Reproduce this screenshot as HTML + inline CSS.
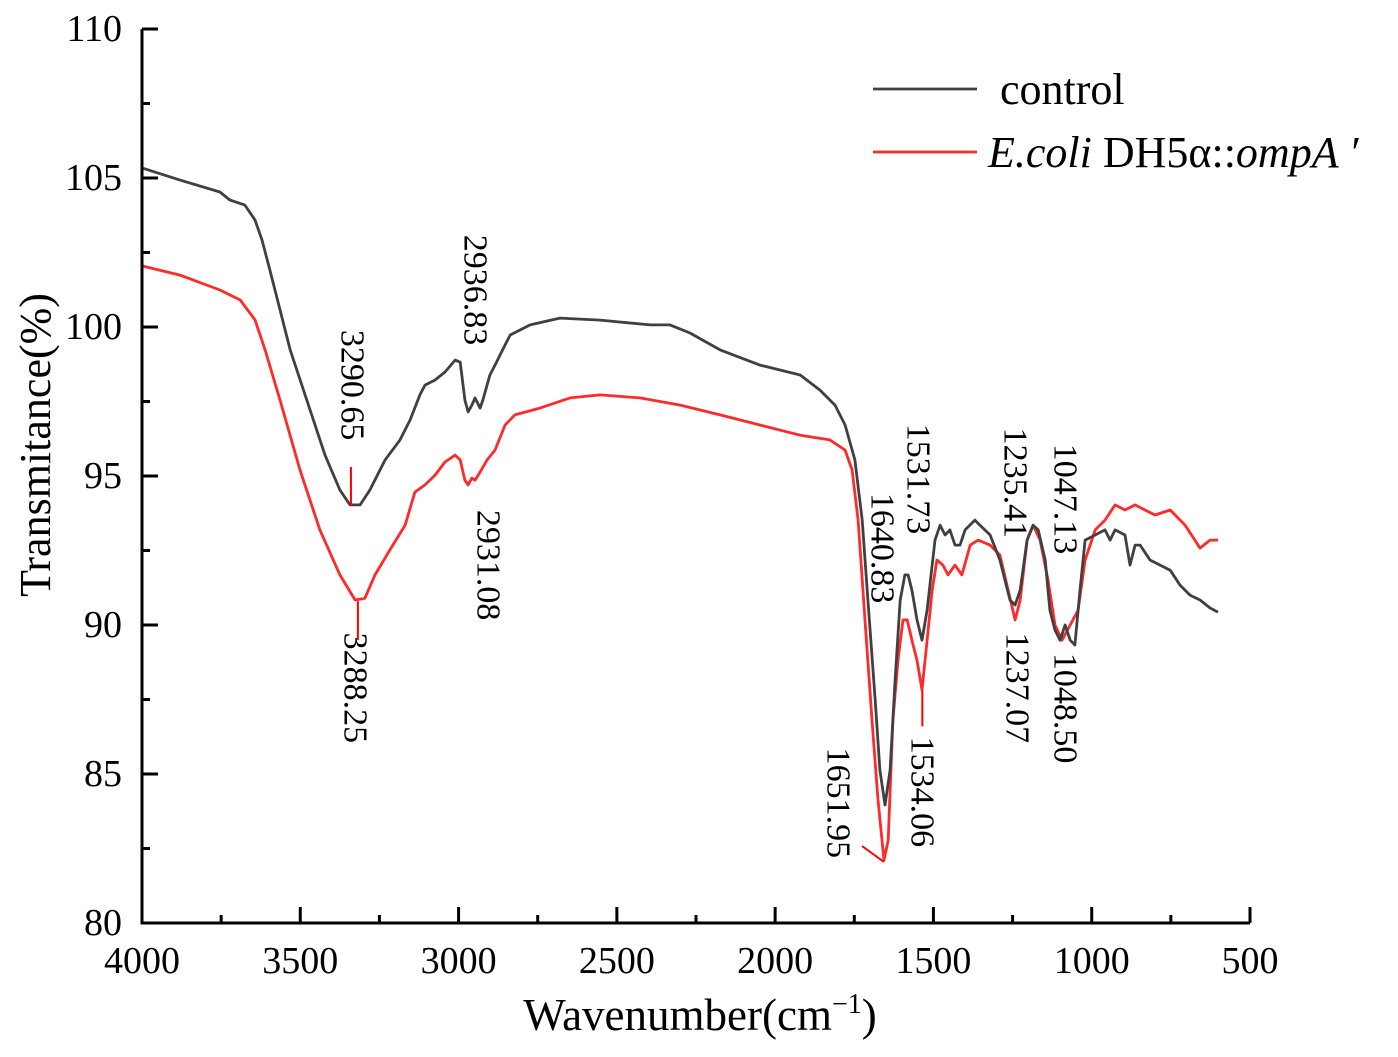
<!DOCTYPE html>
<html><head><meta charset="utf-8"><style>
html,body{margin:0;padding:0;background:#fff;}
svg text{font-family:"Liberation Serif",serif;fill:#000;}
</style></head><body>
<svg id="chart" width="1398" height="1052" viewBox="0 0 1398 1052" xmlns="http://www.w3.org/2000/svg">
<g id="plot"></g>
</svg>
<script>
const controlWn=[4000,3880,3754,3722,3675,3643,3621,3596,3532,3469,3422,3375,3343,3311,3280,3232,3185,3153,3122,3106,3074,3043,3011,2995,2980,2970,2958,2948,2932,2923,2901,2885,2853,2837,2774,2680,2553,2395,2332,2269,2174,2048,1921,1858,1811,1779,1748,1725,1707,1684,1669,1653,1637,1621,1605,1590,1580,1568,1552,1536,1520,1495,1479,1463,1448,1432,1416,1400,1369,1353,1321,1290,1258,1242,1226,1204,1185,1169,1147,1132,1116,1100,1084,1068,1053,1037,1021,989,958,942,926,895,879,863,847,816,784,752,721,689,658,626,601];
const controlT=[105.34,104.93,104.53,104.26,104.09,103.59,102.92,101.91,99.23,97.21,95.70,94.53,94.03,94.03,94.53,95.54,96.21,96.88,97.72,98.05,98.22,98.49,98.89,98.82,97.55,97.15,97.38,97.62,97.28,97.55,98.39,98.72,99.40,99.73,100.07,100.30,100.23,100.07,100.07,99.80,99.23,98.72,98.39,97.88,97.38,96.71,95.54,93.52,90.84,87.48,85.13,83.96,85.13,88.15,90.84,91.68,91.68,91.17,90.17,89.49,90.50,92.85,93.35,93.02,93.19,92.68,92.68,93.19,93.52,93.35,93.02,92.18,90.84,90.67,91.17,92.85,93.35,93.19,92.18,90.50,89.83,89.49,90.00,89.49,89.33,91.17,92.85,93.02,93.19,92.85,93.19,93.02,92.01,92.68,92.68,92.18,92.01,91.84,91.34,91.00,90.84,90.57,90.43];
const ecoliWn=[4000,3880,3754,3690,3643,3611,3564,3501,3438,3375,3327,3296,3264,3217,3169,3138,3106,3074,3043,3011,2995,2980,2970,2958,2948,2932,2910,2885,2853,2822,2743,2648,2553,2427,2300,2174,2048,1921,1827,1779,1757,1738,1716,1694,1675,1656,1643,1628,1612,1596,1583,1568,1552,1536,1520,1504,1489,1470,1454,1432,1410,1384,1359,1321,1290,1264,1242,1226,1204,1185,1163,1138,1116,1094,1068,1043,1021,989,958,926,895,863,832,800,752,705,674,658,626,601];
const ecoliT=[102.05,101.74,101.24,100.91,100.24,99.23,97.55,95.20,93.19,91.68,90.84,90.90,91.68,92.52,93.35,94.46,94.70,95.03,95.47,95.70,95.54,94.86,94.70,94.93,94.86,95.13,95.54,95.87,96.71,97.05,97.28,97.62,97.72,97.62,97.38,97.05,96.71,96.37,96.21,95.87,95.20,93.52,90.17,86.81,84.13,82.11,82.78,86.81,88.82,90.17,90.17,89.49,88.82,87.82,89.49,91.17,92.18,92.01,91.68,92.01,91.68,92.68,92.85,92.68,92.35,91.17,90.17,90.84,92.85,93.35,92.85,91.51,90.00,89.49,90.00,90.50,92.18,93.19,93.52,94.03,93.86,94.03,93.86,93.69,93.86,93.35,92.85,92.58,92.85,92.85];
const xTicks=[4000,3500,3000,2500,2000,1500,1000,500];
const yTicks=[80,85,90,95,100,105,110];
const annotations=[
 ["2936.83",2948,101.24],["3290.65",3337,98.05],["2931.08",2907,92.01],["3288.25",3327,87.89],
 ["1640.83",1662,92.58],["1531.73",1549,94.90],["1651.95",1801,84.03],["1534.06",1536,84.40],
 ["1235.41",1242,94.77],["1237.07",1236,87.89],["1047.13",1084,94.23],["1048.50",1084,87.21]];
const markers=[[3340,94.0,95.3],[3318,90.8,89.5],[1535,87.8,86.6]];

const NS="http://www.w3.org/2000/svg";
const X0=142,X1=1250,Y0=923,Y1=29;
const xs=w=>X0+(4000-w)/3500*(X1-X0);
const ys=t=>Y0-(t-80)/30*(Y0-Y1);
const g=document.getElementById('plot');
function mk(tag,attrs,parent){const e=document.createElementNS(NS,tag);for(const k in attrs)e.setAttribute(k,attrs[k]);(parent||g).appendChild(e);return e;}

function series(wn,t,color,name){
 let d='';wn.forEach((w,i)=>{d+=(i?'L':'M')+xs(w).toFixed(1)+','+ys(t[i]).toFixed(1);});
 const p=mk('path',{d:d,fill:'none',stroke:color,'stroke-width':2.8,'stroke-linejoin':'round'});
 
 
}
series(ecoliWn,ecoliT,'#ff2a2a','ecoli-series-line');
series(controlWn,controlT,'#404040','control-series-line');

markers.forEach(m=>{
 const l=mk('line',{x1:xs(m[0]),x2:xs(m[0]),y1:ys(m[1]),y2:ys(m[2]),stroke:'#ff0000','stroke-width':2});
 
 
});
const ml=mk('line',{x1:862,y1:846,x2:884,y2:862,stroke:'#ff0000','stroke-width':2});



annotations.forEach(a=>{
 const x=xs(a[1]),y=ys(a[2]);
 const t=mk('text',{x:0,y:0,transform:`translate(${x},${y}) rotate(90)`,'text-anchor':'middle','dominant-baseline':'central','font-size':34});
 t.textContent=a[0];
 
 
});

const ax=mk('path',{d:`M${X0},${Y1}L${X0},${Y0}L${X1},${Y0}`,fill:'none',stroke:'#000','stroke-width':3});


for(let w=4000;w>=500;w-=250){
 const maj=w%500===0;const x=xs(w);
 const tk=mk('line',{x1:x,x2:x,y1:Y0,y2:Y0-(maj?16:8),stroke:'#000','stroke-width':3});
 
 
}
xTicks.forEach(w=>{
 const t=mk('text',{x:xs(w),y:973,'text-anchor':'middle','font-size':38});
 t.textContent=w;
 
 
});
for(let v=80;v<=110;v+=2.5){
 const maj=v%5===0;const y=ys(v);
 const tk=mk('line',{x1:X0,x2:X0+(maj?16:8),y1:y,y2:y,stroke:'#000','stroke-width':3});
 
 
}
yTicks.forEach(v=>{
 const t=mk('text',{x:122,y:ys(v)+12,'text-anchor':'end','font-size':38});
 t.textContent=v;
 
 
});
</script>
<svg style="position:absolute;left:0;top:0" width="1398" height="1052" xmlns="http://www.w3.org/2000/svg">
<text x="700" y="1030" text-anchor="middle" font-size="45">Wavenumber(cm<tspan dy="-17" font-size="28">−1</tspan><tspan dy="17">)</tspan></text>
<text transform="translate(50,445) rotate(-90)" text-anchor="middle" font-size="44">Transmitance(%)</text>
<g>
<line x1="873" y1="89" x2="977" y2="89" stroke="#404040" stroke-width="2.8"/>
<text x="1000" y="104" font-size="44">control</text>
<line x1="873" y1="152" x2="977" y2="152" stroke="#ff2a2a" stroke-width="2.8"/>
<text x="988" y="167" font-size="44"><tspan font-style="italic">E.coli</tspan> DH5α::<tspan font-style="italic">ompA ′</tspan></text>
</g>
</svg>
</body></html>
